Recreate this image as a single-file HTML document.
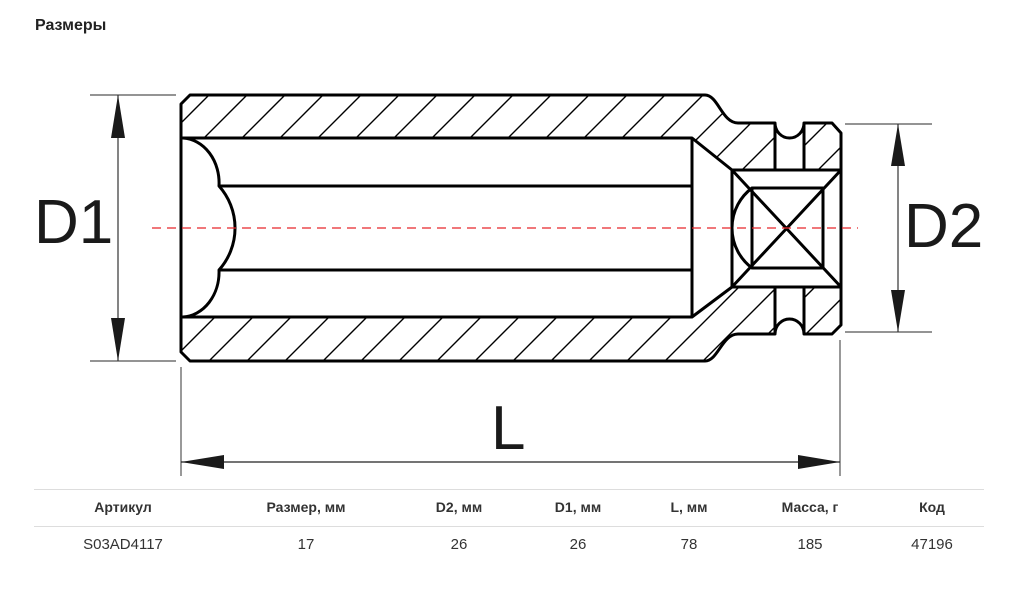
<!DOCTYPE html>
<html><head><meta charset="utf-8"><style>
body{margin:0;background:#fff;width:1022px;height:590px;overflow:hidden;font-family:"Liberation Sans",Arial,sans-serif;color:#333}
.t{position:absolute;left:35px;top:17px;font-weight:bold;font-size:16px;color:#222}
.c{position:absolute;width:200px;margin-left:-100px;text-align:center;color:#333}
.h{top:499px;font-weight:bold;font-size:14px}
.r{top:536px;font-size:15px}
.ln{position:absolute;left:34px;width:950px;height:1px;background:#ddd}
</style></head><body>
<div class="t">Размеры</div>
<svg width="1022" height="590" style="position:absolute;left:0;top:0" xmlns="http://www.w3.org/2000/svg">
<defs>
<pattern id="h" patternUnits="userSpaceOnUse" width="38" height="38">
<path d="M-5,43 L43,-5 M-5,5 L5,-5 M33,43 L43,33" stroke="#000" stroke-width="1.4"/>
</pattern>
</defs>
<path d="M190,95 L705,95 C718,95 722,123 738,123 L775,123 L775,170 L732,170 L692,138 L181,138 L181,104 Z" fill="url(#h)"/>
<path d="M804,124 L832,124 L841,134 L841,170 L804,170 Z" fill="url(#h)"/>
<path d="M190,361 L705,361 C718,361 722,333 738,333 L775,333 L775,287 L732,287 L692,317 L181,317 L181,352 Z" fill="url(#h)"/>
<path d="M804,333 L832,333 L841,324 L841,287 L804,287 Z" fill="url(#h)"/>
<g fill="none" stroke="#000" stroke-width="3" stroke-linejoin="round">
<path d="M190,95 L705,95 C718,95 722,123 738,123 L775,123 A14.5,15 0 0 0 804,123 L832,123 L841,133 L841,325 L832,334 L804,334 A14.5,15 0 0 0 775,334 L738,334 C722,334 718,361 705,361 L190,361 L181,352 L181,104 Z"/>
<path d="M181,138 L692,138 L732,170"/>
<path d="M181,317 L692,317 L732,287"/>
<path d="M692,138 L692,317"/>
<path d="M219,186 L692,186 M219,270 L692,270"/>
<path d="M183,138 A38,45 0 0 1 219,186 A63,63 0 0 1 219,270 A38,45 0 0 1 183,317"/>
<path d="M775,123 L775,170 M804,123 L804,170 M775,287 L775,334 M804,287 L804,334"/>
<rect x="732" y="170" width="109" height="117"/>
<rect x="752" y="188" width="71" height="80"/>
<path d="M732,170 L841,287 M841,170 L732,287"/>
<path d="M752,188 A50,50 0 0 0 752,268"/>
</g>
<line x1="152" y1="228" x2="858" y2="228" stroke="#e8262a" stroke-width="1.3" stroke-dasharray="9,6"/>
<g stroke="#555" stroke-width="1.2">
<line x1="90" y1="95" x2="176" y2="95"/><line x1="90" y1="361" x2="176" y2="361"/>
<line x1="118" y1="95" x2="118" y2="361" stroke="#333"/>
<line x1="845" y1="124" x2="932" y2="124"/><line x1="845" y1="332" x2="932" y2="332"/>
<line x1="898" y1="124" x2="898" y2="332" stroke="#333"/>
<line x1="181" y1="367" x2="181" y2="476"/><line x1="840" y1="340" x2="840" y2="476"/>
<line x1="181" y1="462" x2="840" y2="462" stroke="#222"/>
</g>
<g fill="#1a1a1a">
<path d="M118,95 L111,138 L125,138 Z"/><path d="M118,361 L111,318 L125,318 Z"/>
<path d="M898,124 L891,166 L905,166 Z"/><path d="M898,332 L891,290 L905,290 Z"/>
<path d="M181,462 L224,455 L224,469 Z"/><path d="M840,462 L798,455 L798,469 Z"/>
</g>
<g font-family="Liberation Sans, Arial, sans-serif" fill="#1a1a1a" font-size="62">
<text x="34" y="243">D1</text>
<text x="904" y="247">D2</text>
<text x="491" y="449">L</text>
</g>
</svg>
<div class="ln" style="top:489px"></div>
<div class="ln" style="top:526px"></div>
<div class="c h" style="left:123px">Артикул</div>
<div class="c h" style="left:306px">Размер, мм</div>
<div class="c h" style="left:459px">D2, мм</div>
<div class="c h" style="left:578px">D1, мм</div>
<div class="c h" style="left:689px">L, мм</div>
<div class="c h" style="left:810px">Масса, г</div>
<div class="c h" style="left:932px">Код</div>
<div class="c r" style="left:123px">S03AD4117</div>
<div class="c r" style="left:306px">17</div>
<div class="c r" style="left:459px">26</div>
<div class="c r" style="left:578px">26</div>
<div class="c r" style="left:689px">78</div>
<div class="c r" style="left:810px">185</div>
<div class="c r" style="left:932px">47196</div>
</body></html>
